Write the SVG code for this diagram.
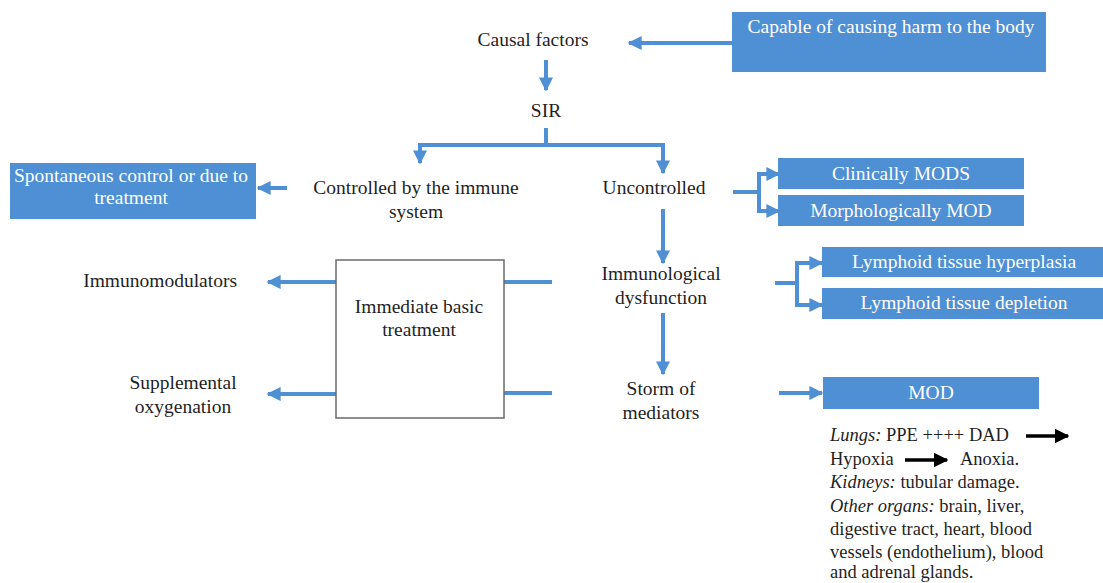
<svg xmlns="http://www.w3.org/2000/svg" width="1103" height="583" viewBox="0 0 1103 583">
<style>
.t{font-family:"Liberation Serif","Times New Roman",serif;font-size:19.5px;fill:#1f1f1f}
.d{font-family:"Liberation Serif","Times New Roman",serif;font-size:18.5px;fill:#1f1f1f}
.w{font-family:"Liberation Serif","Times New Roman",serif;font-size:19.5px;fill:#ffffff}
.box{fill:#4f8fd4}
.c{stroke:#4f8fd4;stroke-width:4;fill:none}
.k{stroke:#000;stroke-width:3.5;fill:none}
</style>
<defs>
<marker id="a" viewBox="0 0 10 10" refX="9" refY="5" markerWidth="3.5" markerHeight="3.5" orient="auto" markerUnits="strokeWidth">
<path d="M0,0 L10,5 L0,10 Z" fill="#4f8fd4"/>
</marker>
<marker id="b" viewBox="0 0 10 10" refX="9" refY="5" markerWidth="4.2" markerHeight="4.2" orient="auto" markerUnits="strokeWidth">
<path d="M0,0 L10,5 L0,10 Z" fill="#000"/>
</marker>
</defs>
<g id="connectors">
<path class="c" d="M732,43 H629" marker-end="url(#a)"/>
<path class="c" d="M546,60 V90" marker-end="url(#a)"/>
<path class="c" d="M546,128 V145 M418,145 H665"/>
<path class="c" d="M420,143 V163" marker-end="url(#a)"/>
<path class="c" d="M663,143 V173" marker-end="url(#a)"/>
<path class="c" d="M287,188 H258" marker-end="url(#a)"/>
<path class="c" d="M733,192 H759 M759,174 V211"/>
<path class="c" d="M757,174 H779" marker-end="url(#a)"/>
<path class="c" d="M757,211 H779" marker-end="url(#a)"/>
<path class="c" d="M663,209 V263" marker-end="url(#a)"/>
<path class="c" d="M775,283 H797 M797,263 V305"/>
<path class="c" d="M795,263 H822" marker-end="url(#a)"/>
<path class="c" d="M795,305 H822" marker-end="url(#a)"/>
<path class="c" d="M663,313 V374" marker-end="url(#a)"/>
<path class="c" d="M779,393 H822" marker-end="url(#a)"/>
<path class="c" d="M504,282 H552 M504,393 H552"/>
<path class="c" d="M336,282 H268" marker-end="url(#a)"/>
<path class="c" d="M336,394 H268" marker-end="url(#a)"/>
<path class="k" d="M1026,436 H1068" marker-end="url(#b)"/>
<path class="k" d="M905,460 H947" marker-end="url(#b)"/>
</g>
<g id="capable"><rect class="box" x="732" y="12" width="314" height="60"/><text class="w" x="891" y="33" text-anchor="middle">Capable of causing harm to the body</text></g>
<g id="causal"><text class="t" x="533" y="46" text-anchor="middle">Causal factors</text></g>
<g id="sir"><text class="t" x="546" y="117" text-anchor="middle">SIR</text></g>
<g id="spontaneous"><rect class="box" x="10" y="163" width="246" height="56"/><text class="w" x="131" y="182" text-anchor="middle">Spontaneous control or due to</text><text class="w" x="131" y="204" text-anchor="middle">treatment</text></g>
<g id="controlled"><text class="t" x="416" y="194" text-anchor="middle">Controlled by the immune</text><text class="t" x="416" y="218" text-anchor="middle">system</text></g>
<g id="uncontrolled"><text class="t" x="654" y="194" text-anchor="middle">Uncontrolled</text></g>
<g id="clinically"><rect class="box" x="778" y="158" width="246" height="31"/><text class="w" x="901" y="180" text-anchor="middle">Clinically MODS</text></g>
<g id="morph"><rect class="box" x="778" y="195" width="246" height="31"/><text class="w" x="901" y="217" text-anchor="middle">Morphologically MOD</text></g>
<g id="immuno"><text class="t" x="661" y="280" text-anchor="middle">Immunological</text><text class="t" x="661" y="304" text-anchor="middle">dysfunction</text></g>
<g id="hyper"><rect class="box" x="822" y="247" width="281" height="30"/><text class="w" x="964" y="268" text-anchor="middle">Lymphoid tissue hyperplasia</text></g>
<g id="depletion"><rect class="box" x="822" y="288" width="281" height="31"/><text class="w" x="964" y="309" text-anchor="middle">Lymphoid tissue depletion</text></g>
<g id="storm"><text class="t" x="661" y="395" text-anchor="middle">Storm of</text><text class="t" x="661" y="419" text-anchor="middle">mediators</text></g>
<g id="mod"><rect class="box" x="823" y="377" width="216" height="32"/><text class="w" x="931" y="399" text-anchor="middle">MOD</text></g>
<g id="mod-details">
<text class="d" x="830" y="441"><tspan font-style="italic">Lungs:</tspan> PPE ++++ DAD</text>
<text class="d" x="830" y="465">Hypoxia</text>
<text class="d" x="960" y="465">Anoxia.</text>
<text class="d" x="830" y="488"><tspan font-style="italic">Kidneys:</tspan> tubular damage.</text>
<text class="d" x="830" y="512"><tspan font-style="italic">Other organs:</tspan> brain, liver,</text>
<text class="d" x="830" y="535">digestive tract, heart, blood</text>
<text class="d" x="830" y="558">vessels (endothelium), blood</text>
<text class="d" x="830" y="578">and adrenal  glands.</text>
</g>
<g id="treatment"><rect x="336" y="260" width="168" height="158" fill="#fff" stroke="#6b6b6b" stroke-width="1.5"/><text class="t" x="419" y="313" text-anchor="middle">Immediate basic</text><text class="t" x="419" y="336" text-anchor="middle">treatment</text></g>
<g id="immunomodulators"><text class="t" x="237" y="287" text-anchor="end">Immunomodulators</text></g>
<g id="oxygen"><text class="t" x="183" y="389" text-anchor="middle">Supplemental</text><text class="t" x="183" y="413" text-anchor="middle">oxygenation</text></g>
</svg>
